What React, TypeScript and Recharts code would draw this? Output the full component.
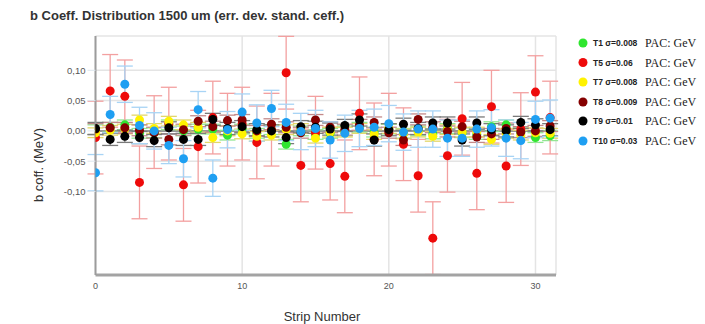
import React from 'react';
import { ScatterChart, Scatter, XAxis, YAxis, CartesianGrid, ErrorBar, ReferenceLine } from 'recharts';

const strips = [0, 1, 2, 3, 4, 5, 6, 7, 8, 9, 10, 11, 12, 13, 14, 15, 16, 17, 18, 19, 20, 21, 22, 23, 24, 25, 26, 27, 28, 29, 30, 31];

const t1Values = [0.002, 0.006, 0.010, -0.004, -0.003, 0.010, 0.000, 0.003, 0.003, -0.007, 0.003, -0.004, 0.002, -0.022, 0.000, -0.006, -0.004, 0.000, 0.006, -0.002, 0.003, -0.004, 0.000, -0.005, 0.004, -0.003, -0.006, 0.007, 0.010, -0.003, -0.011, -0.008];
const t5Values = [-0.011, 0.066, 0.057, -0.085, -0.002, 0.012, -0.089, -0.026, 0.022, 0.002, 0.012, -0.019, 0.002, 0.096, -0.057, -0.003, -0.054, -0.075, 0.029, -0.014, 0.002, -0.022, -0.074, -0.177, -0.041, 0.020, -0.070, 0.040, -0.058, 0.003, 0.064, 0.022];
const t7Values = [-0.003, 0.001, 0.003, 0.018, 0.004, 0.016, 0.010, 0.006, -0.011, 0.000, -0.005, -0.009, -0.007, 0.002, 0.004, -0.012, -0.002, -0.002, 0.004, -0.006, 0.004, -0.005, -0.002, -0.009, 0.002, -0.002, -0.002, -0.014, -0.004, -0.007, -0.003, -0.004];
const t8Values = [0.003, 0.005, 0.005, 0.001, -0.003, -0.014, 0.002, 0.016, 0.007, 0.017, 0.018, 0.000, 0.011, 0.006, -0.003, 0.018, 0.006, 0.002, 0.010, 0.014, -0.003, -0.015, 0.019, 0.006, -0.001, 0.007, -0.010, -0.005, 0.004, -0.002, 0.000, 0.008];
const t9Values = [0.004, -0.014, -0.009, -0.011, -0.016, 0.005, -0.014, -0.014, 0.019, 0.004, 0.007, 0.002, 0.000, -0.011, 0.007, 0.006, 0.003, 0.009, 0.018, -0.015, 0.002, 0.011, 0.004, 0.013, 0.013, -0.015, 0.013, 0.002, 0.000, 0.014, 0.010, 0.002];
const t10Values = [-0.069, 0.027, 0.077, 0.009, 0.000, -0.024, -0.046, 0.035, -0.078, 0.002, 0.031, 0.013, 0.037, 0.014, -0.001, 0.004, -0.015, -0.004, 0.004, 0.006, 0.012, -0.002, 0.003, 0.003, -0.012, -0.012, 0.003, 0.005, -0.012, -0.016, 0.019, 0.021];

const seriesNames = ['T1', 'T5', 'T7', 'T8', 'T9', 'T10'];
const sigmaLabels = ['σ=0.008', 'σ=0.06', 'σ=0.008', 'σ=0.009', 'σ=0.01', 'σ=0.03'];
const sigmas = [0.008, 0.06, 0.008, 0.009, 0.01, 0.03];
const unitLabel = 'PAC: GeV';
const seriesValues = [t1Values, t5Values, t7Values, t8Values, t9Values, t10Values];

const xTicks = [0, 10, 20, 30];
const yTicks = [-0.1, -0.05, 0, 0.05, 0.1];

const titleText = 'b Coeff. Distribution 1500 um (err. dev. stand. ceff.)';
const xLabel = 'Strip Number';
const yLabel = 'b coff. (MeV)';

const colors = ['#2fe62f', '#ee0a0a', '#fff200', '#850000', '#000000', '#1e9ff2'];
const errColors = ['#92e692', '#f3a0a0', '#e3d76a', '#c48a8a', '#7a7a7a', '#a8d4f5'];
const legendRows = [43, 62.5, 82, 102, 121, 141];

const buildData = (vals: number[], s: number) => strips.map((x, i) => ({ x, y: vals[i], err: s }));

const fmt = (v: number) => v.toFixed(2).replace('.', ',');

export default function App() {
  return (
    <div style={{ position: 'absolute', left: 0, top: 0, width: 705, height: 324, background: '#fff' }}>
      <ScatterChart width={705} height={324} margin={{ top: 36, right: 149, bottom: 19, left: 0 }}>
        <CartesianGrid stroke="#e4e4e4" strokeWidth={1.5} />
        <XAxis
          type="number"
          dataKey="x"
          domain={[0, 31.4]}
          ticks={xTicks}
          allowDataOverflow
          height={30}
          axisLine={{ stroke: '#a3a3a3', strokeWidth: 3 }}
          tickLine={false}
          tickSize={4}
          tickMargin={4}
          tick={{ fontSize: 9, fill: '#555', fontFamily: 'Liberation Sans, Arial, sans-serif' }}
        />
        <YAxis
          type="number"
          dataKey="y"
          domain={[-0.2378, 0.1566]}
          ticks={yTicks}
          allowDataOverflow
          width={95.5}
          tickFormatter={fmt}
          axisLine={{ stroke: '#9c9c9c', strokeWidth: 2 }}
          tickLine={{ stroke: '#dde6ee' }}
          tickSize={8}
          tickMargin={2}
          tick={{ fontSize: 9.5, fill: '#555', fontFamily: 'Liberation Sans, Arial, sans-serif' }}
        />
        <ReferenceLine y={0} stroke="#7a7a7a" strokeWidth={1.5} />
        {seriesValues.map((vals, si) => (
          <Scatter
            key={seriesNames[si]}
            name={seriesNames[si]}
            data={buildData(vals, sigmas[si])}
            fill={colors[si]}
            isAnimationActive={false}
            shape={(p: any) => <circle cx={p.cx} cy={p.cy} r={4.5} fill={colors[si]} />}
          >
            <ErrorBar dataKey="err" direction="y" width={8} stroke={errColors[si]} strokeWidth={1.3} />
          </Scatter>
        ))}
      </ScatterChart>
      <svg width={705} height={324} style={{ position: 'absolute', left: 0, top: 0, pointerEvents: 'none' }}>
        <text x={30} y={19.5} fontSize={13} fontWeight="bold" fill="#333" fontFamily="Liberation Sans, Arial, sans-serif">{titleText}</text>
        <text x={0} y={0} transform="translate(43,165) rotate(-90)" textAnchor="middle" fontSize={13} fill="#333" fontFamily="Liberation Sans, Arial, sans-serif">{yLabel}</text>
        <text x={322} y={321} textAnchor="middle" fontSize={13} fill="#333" fontFamily="Liberation Sans, Arial, sans-serif">{xLabel}</text>
        {seriesNames.map((n, i) => (
          <g key={n}>
            <circle cx={583} cy={legendRows[i]} r={4.5} fill={colors[i]} />
            <text x={593} y={legendRows[i] + 3} fontSize={8.5} fontWeight="bold" fill="#222" fontFamily="Liberation Sans, Arial, sans-serif">{n + ' ' + sigmaLabels[i]}</text>
            <text x={645} y={legendRows[i] + 4} fontSize={12} fill="#222" fontFamily="Liberation Serif, Times New Roman, serif">{unitLabel}</text>
          </g>
        ))}
      </svg>
    </div>
  );
}
